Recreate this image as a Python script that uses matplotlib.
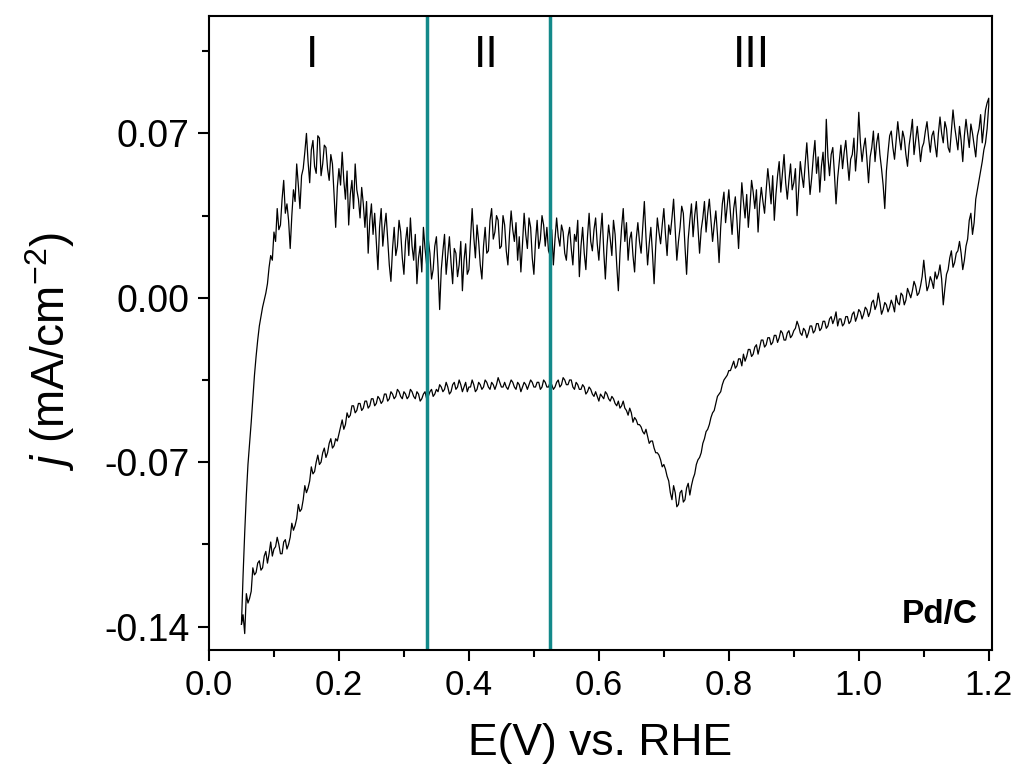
import numpy as np
import matplotlib
matplotlib.use("Agg")
import matplotlib.pyplot as plt
from matplotlib.ticker import MultipleLocator, FormatStrFormatter

# potential sweep of the CV (V vs RHE), 2.5 mV steps
E_START = 0.05
E_VERTEX = 1.20

# current density (mA/cm2), forward scan 0.05 -> 1.20 V (one row = 50 mV)
j_fwd = [
    -0.139, -0.118, -0.100, -0.084, -0.071, -0.062, -0.053, -0.043, -0.033, -0.025,
    -0.018, -0.012, -0.008, -0.004, -0.001, 0.002, 0.006, 0.013, 0.018, 0.016,
    0.028, 0.024, 0.038, 0.029, 0.031, 0.042, 0.050, 0.036, 0.040, 0.033,
    0.021, 0.035, 0.046, 0.041, 0.057, 0.048, 0.038, 0.052, 0.055, 0.062,
    0.070, 0.058, 0.049, 0.063, 0.067, 0.056, 0.053, 0.069, 0.068, 0.052,
    0.057, 0.065, 0.064, 0.055, 0.050, 0.061, 0.057, 0.044, 0.030, 0.047,
    0.055, 0.048, 0.062, 0.050, 0.042, 0.054, 0.031, 0.044, 0.050, 0.038,
    0.057, 0.046, 0.042, 0.034, 0.047, 0.040, 0.030, 0.041, 0.019, 0.033,
    0.040, 0.027, 0.036, 0.024, 0.012, 0.030, 0.038, 0.022, 0.030, 0.036,
    0.025, 0.014, 0.007, 0.021, 0.030, 0.018, 0.022, 0.033, 0.028, 0.017,
    0.010, 0.024, 0.030, 0.018, 0.034, 0.022, 0.016, 0.027, 0.006, 0.017,
    0.022, 0.011, 0.030, 0.021, 0.014, 0.025, 0.019, 0.008, 0.012, 0.022,
    0.026, 0.013, -0.005, 0.012, 0.020, 0.027, 0.010, 0.018, 0.026, 0.015,
    0.006, 0.021, 0.019, 0.009, 0.014, 0.024, 0.003, 0.016, 0.023, 0.010,
    0.012, 0.025, 0.038, 0.026, 0.017, 0.031, 0.024, 0.014, 0.008, 0.022,
    0.030, 0.019, 0.020, 0.033, 0.038, 0.025, 0.028, 0.035, 0.033, 0.021,
    0.022, 0.035, 0.031, 0.020, 0.014, 0.027, 0.037, 0.029, 0.024, 0.032,
    0.016, 0.026, 0.011, 0.023, 0.036, 0.027, 0.021, 0.034, 0.030, 0.017,
    0.010, 0.024, 0.033, 0.021, 0.025, 0.035, 0.031, 0.022, 0.030, 0.020,
    0.018, 0.029, 0.014, 0.025, 0.034, 0.026, 0.022, 0.031, 0.028, 0.019,
    0.016, 0.026, 0.030, 0.021, 0.014, 0.027, 0.024, 0.033, 0.009, 0.022,
    0.030, 0.019, 0.012, 0.026, 0.036, 0.024, 0.020, 0.029, 0.034, 0.023,
    0.016, 0.027, 0.036, 0.020, 0.008, 0.022, 0.031, 0.025, 0.018, 0.033,
    0.027, 0.014, 0.003, 0.019, 0.030, 0.038, 0.024, 0.032, 0.016, 0.025,
    0.028, 0.018, 0.011, 0.025, 0.032, 0.024, 0.019, 0.030, 0.041, 0.026,
    0.014, 0.023, 0.030, 0.019, 0.006, 0.022, 0.034, 0.028, 0.023, 0.031,
    0.038, 0.027, 0.018, 0.031, 0.027, 0.034, 0.042, 0.029, 0.016, 0.024,
    0.030, 0.039, 0.036, 0.022, 0.010, 0.025, 0.033, 0.040, 0.026, 0.035,
    0.041, 0.030, 0.019, 0.029, 0.034, 0.041, 0.028, 0.036, 0.042, 0.033,
    0.024, 0.031, 0.037, 0.027, 0.015, 0.030, 0.040, 0.045, 0.032, 0.039,
    0.046, 0.036, 0.027, 0.038, 0.043, 0.033, 0.021, 0.035, 0.049, 0.041,
    0.034, 0.044, 0.030, 0.039, 0.050, 0.045, 0.038, 0.046, 0.028, 0.040,
    0.047, 0.041, 0.036, 0.046, 0.055, 0.048, 0.040, 0.052, 0.033, 0.044,
    0.052, 0.058, 0.045, 0.053, 0.061, 0.049, 0.042, 0.050, 0.057, 0.046,
    0.049, 0.055, 0.035, 0.046, 0.058, 0.052, 0.047, 0.057, 0.066, 0.055,
    0.044, 0.051, 0.060, 0.067, 0.053, 0.060, 0.045, 0.056, 0.062, 0.050,
    0.076, 0.060, 0.052, 0.061, 0.064, 0.053, 0.040, 0.051, 0.058, 0.065,
    0.055, 0.062, 0.067, 0.058, 0.050, 0.059, 0.061, 0.068, 0.054, 0.063,
    0.079, 0.066, 0.058, 0.064, 0.068, 0.059, 0.049, 0.060, 0.064, 0.071,
    0.058, 0.066, 0.070, 0.061, 0.055, 0.048, 0.038, 0.054, 0.062, 0.069,
    0.071, 0.064, 0.059, 0.067, 0.075, 0.068, 0.063, 0.071, 0.068, 0.061,
    0.056, 0.065, 0.070, 0.076, 0.061, 0.067, 0.073, 0.066, 0.058, 0.064,
    0.066, 0.071, 0.075, 0.068, 0.062, 0.069, 0.071, 0.065, 0.060, 0.070,
    0.077, 0.070, 0.066, 0.075, 0.072, 0.064, 0.062, 0.071, 0.080, 0.073,
    0.068, 0.063, 0.073, 0.067, 0.058, 0.069, 0.076, 0.070, 0.064, 0.074,
    0.070, 0.065, 0.060, 0.069, 0.072, 0.078, 0.066, 0.073, 0.080, 0.083,
    0.085,
]

# reverse scan 1.20 -> 0.05 V
j_rev = [
    0.082, 0.072, 0.066, 0.063, 0.058, 0.054, 0.050, 0.046, 0.042, 0.032,
    0.027, 0.036, 0.033, 0.025, 0.022, 0.016, 0.012, 0.019, 0.024, 0.020,
    0.019, 0.015, 0.013, 0.020, 0.017, 0.012, 0.010, 0.004, -0.003, 0.008,
    0.014, 0.010, 0.008, 0.011, 0.004, 0.007, 0.009, 0.005, 0.003, 0.009,
    0.016, 0.009, 0.005, 0.002, 0.001, 0.005, 0.007, 0.003, 0.000, 0.002,
    0.004, -0.001, -0.003, 0.001, 0.002, -0.003, -0.002, 0.001, -0.006, -0.003,
    -0.001, -0.004, -0.006, -0.003, -0.002, -0.005, -0.007, -0.002, 0.002, -0.003,
    -0.005, -0.001, -0.002, -0.006, -0.008, -0.005, -0.004, -0.007, -0.009, -0.006,
    -0.005, -0.008, -0.010, -0.006, -0.007, -0.010, -0.011, -0.008, -0.008, -0.011,
    -0.012, -0.009, -0.009, -0.012, -0.006, -0.009, -0.011, -0.008, -0.009, -0.012,
    -0.013, -0.010, -0.010, -0.013, -0.014, -0.011, -0.011, -0.014, -0.015, -0.012,
    -0.012, -0.015, -0.017, -0.014, -0.013, -0.016, -0.015, -0.012, -0.010, -0.013,
    -0.014, -0.016, -0.017, -0.014, -0.015, -0.018, -0.018, -0.015, -0.014, -0.017,
    -0.019, -0.016, -0.016, -0.019, -0.020, -0.017, -0.017, -0.020, -0.021, -0.018,
    -0.018, -0.021, -0.024, -0.020, -0.021, -0.024, -0.025, -0.022, -0.022, -0.025,
    -0.027, -0.024, -0.029, -0.026, -0.026, -0.029, -0.030, -0.027, -0.029, -0.031,
    -0.031, -0.033, -0.034, -0.035, -0.037, -0.040, -0.041, -0.042, -0.045, -0.048,
    -0.049, -0.051, -0.054, -0.056, -0.057, -0.060, -0.062, -0.066, -0.068, -0.069,
    -0.071, -0.075, -0.077, -0.080, -0.084, -0.079, -0.081, -0.086, -0.087, -0.082,
    -0.083, -0.088, -0.089, -0.083, -0.080, -0.086, -0.083, -0.078, -0.076, -0.073,
    -0.071, -0.072, -0.069, -0.067, -0.066, -0.066, -0.064, -0.061, -0.061, -0.062,
    -0.059, -0.056, -0.058, -0.057, -0.055, -0.054, -0.054, -0.052, -0.051, -0.053,
    -0.049, -0.047, -0.050, -0.048, -0.047, -0.044, -0.046, -0.047, -0.044, -0.046,
    -0.045, -0.043, -0.042, -0.044, -0.043, -0.041, -0.040, -0.043, -0.042, -0.041,
    -0.044, -0.042, -0.040, -0.042, -0.041, -0.039, -0.038, -0.040, -0.041, -0.038,
    -0.037, -0.039, -0.039, -0.037, -0.036, -0.039, -0.038, -0.035, -0.035, -0.037,
    -0.037, -0.035, -0.034, -0.037, -0.038, -0.035, -0.036, -0.038, -0.039, -0.037,
    -0.036, -0.038, -0.038, -0.036, -0.035, -0.038, -0.039, -0.036, -0.036, -0.038,
    -0.038, -0.036, -0.035, -0.037, -0.039, -0.037, -0.036, -0.038, -0.040, -0.037,
    -0.036, -0.039, -0.038, -0.036, -0.035, -0.037, -0.039, -0.038, -0.036, -0.038,
    -0.038, -0.036, -0.034, -0.037, -0.039, -0.037, -0.036, -0.039, -0.038, -0.036,
    -0.035, -0.038, -0.039, -0.037, -0.036, -0.039, -0.040, -0.037, -0.035, -0.038,
    -0.038, -0.040, -0.036, -0.038, -0.040, -0.037, -0.035, -0.038, -0.039, -0.036,
    -0.037, -0.040, -0.041, -0.038, -0.036, -0.039, -0.040, -0.038, -0.037, -0.040,
    -0.039, -0.041, -0.042, -0.039, -0.040, -0.042, -0.043, -0.040, -0.041, -0.043,
    -0.044, -0.041, -0.040, -0.043, -0.042, -0.040, -0.039, -0.042, -0.043, -0.041,
    -0.040, -0.043, -0.042, -0.040, -0.039, -0.042, -0.043, -0.041, -0.040, -0.043,
    -0.044, -0.041, -0.041, -0.044, -0.045, -0.043, -0.042, -0.045, -0.046, -0.043,
    -0.043, -0.046, -0.047, -0.044, -0.044, -0.047, -0.048, -0.045, -0.045, -0.048,
    -0.049, -0.046, -0.046, -0.050, -0.051, -0.049, -0.054, -0.056, -0.052, -0.055,
    -0.058, -0.061, -0.060, -0.063, -0.064, -0.060, -0.062, -0.066, -0.068, -0.064,
    -0.066, -0.070, -0.071, -0.067, -0.070, -0.074, -0.075, -0.072, -0.078, -0.081,
    -0.083, -0.080, -0.086, -0.090, -0.091, -0.088, -0.094, -0.097, -0.099, -0.096,
    -0.102, -0.105, -0.107, -0.103, -0.104, -0.109, -0.109, -0.105, -0.102, -0.106,
    -0.107, -0.110, -0.104, -0.109, -0.113, -0.108, -0.110, -0.115, -0.116, -0.112,
    -0.113, -0.117, -0.118, -0.115, -0.125, -0.128, -0.130, -0.126, -0.143, -0.135,
    -0.139,
]

region_bounds = [0.335, 0.525]
region_names = ["I", "II", "III"]
region_label_x = [0.158, 0.426, 0.835]
sample_name = "Pd/C"

plt.rcParams['font.family'] = ['Liberation Sans', 'DejaVu Sans']
plt.rcParams['mathtext.fontset'] = 'custom'
plt.rcParams['mathtext.rm'] = 'Liberation Sans'
plt.rcParams['mathtext.it'] = 'Liberation Sans:italic'
plt.rcParams['axes.unicode_minus'] = False

E_fwd = np.linspace(E_START, E_VERTEX, len(j_fwd))
E_rev = np.linspace(E_VERTEX, E_START, len(j_rev))
E = np.concatenate([E_fwd, E_rev])
j = np.concatenate([j_fwd, j_rev])

fig = plt.figure(figsize=(10.11, 7.74), dpi=100)
ax = fig.add_axes([0.2067, 0.1602, 0.7745, 0.8191])

ax.plot(E, j, color='black', lw=0.9)
for xb in region_bounds:
    ax.axvline(xb, color='#13898a', lw=2.5)

for name, xl in zip(region_names, region_label_x):
    ax.text(xl, 0.1034, name, ha='center', va='center', fontsize=32)

ax.text(1.183, -0.1387, sample_name, ha='right', va='baseline',
        fontsize=24, fontweight='bold')

ax.set_xlim(0, 1.205)
ax.set_ylim(-0.150, 0.120)

ax.xaxis.set_major_locator(MultipleLocator(0.2))
ax.xaxis.set_minor_locator(MultipleLocator(0.1))
ax.xaxis.set_major_formatter(FormatStrFormatter('%.1f'))
ax.set_yticks([-0.14, -0.07, 0.0, 0.07])
ax.set_yticks([-0.105, -0.035, 0.035, 0.105], minor=True)
ax.yaxis.set_major_formatter(FormatStrFormatter('%.2f'))

ax.tick_params(which='both', direction='out', width=1.5,
               top=False, right=False)
ax.tick_params(which='major', length=8)
ax.tick_params(which='minor', length=5)
ax.tick_params(axis='x', pad=6, labelsize=25)
ax.tick_params(axis='y', pad=6, labelsize=27)
for s in ax.spines.values():
    s.set_linewidth(1.5)

ax.set_xlabel('E(V) vs. RHE', fontsize=32)
ax.xaxis.set_label_coords(0.5, -0.115)
ax.set_ylabel('$j$ (mA/cm$^{-2}$)', fontsize=33)
ax.yaxis.set_label_coords(-0.169, 0.47)

fig.savefig('out.png', dpi=100)
